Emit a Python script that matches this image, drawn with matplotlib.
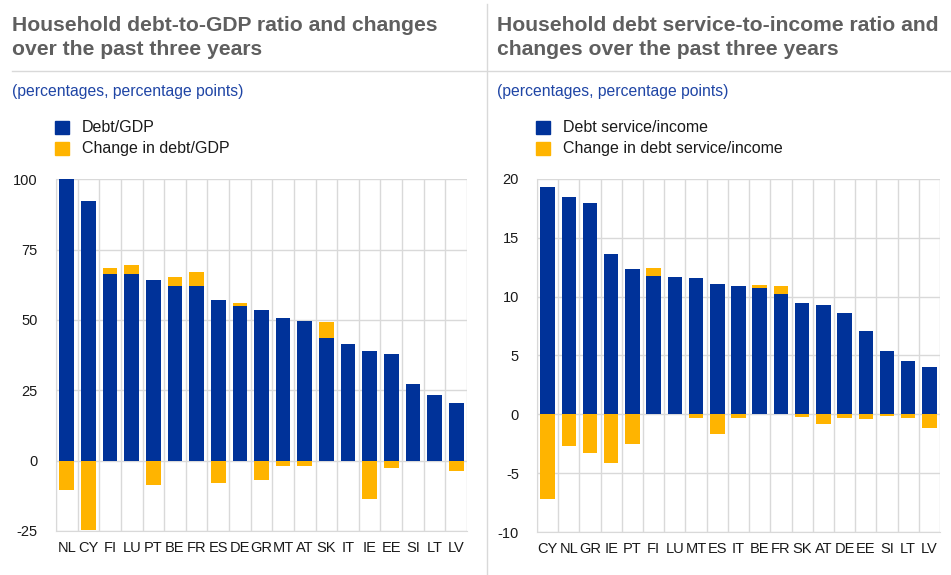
import numpy as np
import matplotlib
matplotlib.use("Agg")
import matplotlib.pyplot as plt
from matplotlib.patches import Rectangle
from matplotlib.lines import Line2D

plt.rcParams['font.family'] = ['Liberation Sans', 'DejaVu Sans']
plt.rcParams['axes.unicode_minus'] = False

BLUE = "#003299"
YELLOW = "#FFB400"
GRID = "#d9d9d9"
GREY_TXT = "#5f5f5f"

# left panel: household debt-to-GDP
gdp_countries = ["NL", "CY", "FI", "LU", "PT", "BE", "FR", "ES", "DE", "GR",
                 "MT", "AT", "SK", "IT", "IE", "EE", "SI", "LT", "LV"]
gdp_level = [100.0, 92.4, 66.4, 66.2, 64.3, 62.1, 62.1, 57.0, 54.8, 53.5,
             50.7, 49.7, 43.7, 41.4, 38.9, 37.8, 27.2, 23.2, 20.4]
gdp_change = [-10.3, -24.7, 2.2, 3.4, -8.7, 3.2, 4.9, -7.8, 1.3, -6.8,
              -1.9, -1.8, 5.5, 0.0, -13.7, -2.6, -0.1, 0.3, -3.5]

# right panel: debt service-to-income
dsr_countries = ["CY", "NL", "GR", "IE", "PT", "FI", "LU", "MT", "ES", "IT",
                 "BE", "FR", "SK", "AT", "DE", "EE", "SI", "LT", "LV"]
dsr_level = [19.3, 18.45, 17.96, 13.65, 12.33, 11.73, 11.65, 11.59, 11.06, 10.89,
             10.69, 10.18, 9.45, 9.31, 8.63, 7.05, 5.41, 4.57, 4.03]
dsr_change = [-7.16, -2.70, -3.29, -4.13, -2.50, 0.68, 0.0, -0.31, -1.69, -0.34,
              0.28, 0.71, -0.2, -0.84, -0.34, -0.42, -0.15, -0.33, -1.15]

W, H = 951, 575
fig = plt.figure(figsize=(W / 100, H / 100), dpi=100)


def px_axes(x0, x1, ytop, ybot):
    return fig.add_axes([x0 / W, (H - ybot) / H, (x1 - x0) / W, (ybot - ytop) / H])


def draw_panel(ax, cats, level, change, ylim, yticks):
    x = np.arange(len(cats))
    level = np.array(level)
    change = np.array(change)
    pos = np.where(change > 0, change, 0)
    neg = np.where(change < 0, change, 0)
    ax.bar(x, level, width=0.68, color=BLUE, zorder=3)
    ax.bar(x, pos, bottom=level, width=0.68, color=YELLOW, zorder=3)
    ax.bar(x, neg, width=0.68, color=YELLOW, zorder=3)
    ax.set_xlim(-0.5, len(cats) - 0.5)
    ax.set_ylim(*ylim)
    ax.set_yticks(yticks)
    ax.set_xticks(x)
    ax.set_xticklabels(cats)
    ax.tick_params(length=0, labelsize=10.5, labelcolor="#1a1a1a")
    ax.tick_params(axis="y", pad=13)
    ax.tick_params(axis="x", pad=7)
    ax.grid(axis="y", color=GRID, lw=1, zorder=0)
    for b in np.arange(-0.5, len(cats), 1.0):
        ax.axvline(b, color=GRID, lw=1, zorder=0)
    for s in ["top", "right"]:
        ax.spines[s].set_visible(False)
    for s in ["left", "bottom"]:
        ax.spines[s].set_color(GRID)


ax1 = px_axes(56, 467, 179.3, 531)
draw_panel(ax1, gdp_countries, gdp_level, gdp_change, (-25, 100), [-25, 0, 25, 50, 75, 100])

ax2 = px_axes(537, 940, 178.7, 532.3)
draw_panel(ax2, dsr_countries, dsr_level, dsr_change, (-10, 20), [-10, -5, 0, 5, 10, 15, 20])

# titles and subtitles
titles = [
    (12, "Household debt-to-GDP ratio and changes", "over the past three years"),
    (497, "Household debt service-to-income ratio and", "changes over the past three years"),
]
for tx, line1, line2 in titles:
    fig.text(tx / W, 1 - 31 / H, line1, fontsize=15.2, fontweight="bold",
             color=GREY_TXT, va="baseline")
    fig.text(tx / W, 1 - 55 / H, line2, fontsize=15.2, fontweight="bold",
             color=GREY_TXT, va="baseline")
    fig.text(tx / W, 1 - 91 / H, "(percentages, percentage points)", fontsize=11.3,
             color="#1f45a5", va="center")

# legends
legend_items = [
    (55, ["Debt/GDP", "Change in debt/GDP"]),
    (536, ["Debt service/income", "Change in debt service/income"]),
]
for lx, labels in legend_items:
    for i, (lab, col) in enumerate(zip(labels, [BLUE, YELLOW])):
        yc = 127.5 + i * 21
        fig.patches.append(Rectangle((lx / W, 1 - (yc + 6.5) / H), 14 / W, 13 / H,
                                     transform=fig.transFigure, color=col))
        fig.text((lx + 27) / W, 1 - yc / H, lab, fontsize=11.5, color="#1a1a1a", va="center")

# separators
fig.add_artist(Line2D([12 / W, 1], [1 - 70.5 / H] * 2, color=GRID, lw=1))
fig.add_artist(Line2D([487 / W] * 2, [0, 1 - 4 / H], color=GRID, lw=1))

fig.savefig("out.png", dpi=100)
